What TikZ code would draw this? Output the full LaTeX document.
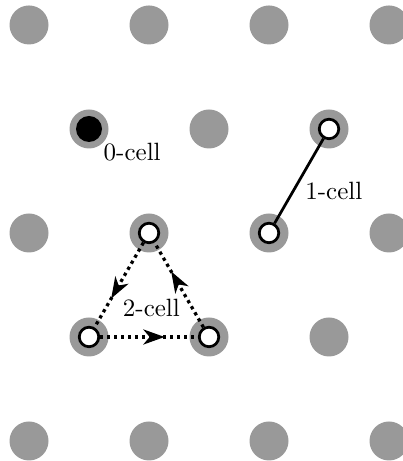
\documentclass[tikz,border=0pt]{standalone}
\usetikzlibrary{arrows.meta,decorations.markings}
\definecolor{sitegray}{rgb}{0.6,0.6,0.6}
\tikzset{
  site/.style={circle, fill=sitegray, inner sep=0pt, minimum size=15.6pt},
  vert/.style={circle, draw, line width=1.1pt, fill=white, inner sep=0pt, minimum size=7.8pt},
  occ/.style={circle, fill=black, inner sep=0pt, minimum size=10.4pt},
  lbl/.style={inner sep=0pt},
  flow/.style={line width=1.3pt, dash pattern=on 1.3pt off 1.5pt, postaction={decorate},
    decoration={markings, mark=at position 0.66 with {\arrow{Stealth[length=8.5pt,width=6pt,inset=2.5pt]}}}}
}
\begin{document}
\begin{tikzpicture}[x=48pt,y=48pt]
                \useasboundingbox (-0.2417,-0.1667) rectangle (3.1083,3.675);
                % lattice sites
                \foreach \j in {0,...,4}{
                    \foreach \i in {0,...,3}{
                        \ifodd\j
                            \ifnum\i<3 \node[site] (s-\i-\j) at ({\i+0.5},{0.8667*\j}) {}; \fi
                        \else
                            \node[site] (s-\i-\j) at (\i,{0.8667*\j}) {};
                        \fi
                    }
                }
                % 0-cell
                \node[occ] (z0) at (s-0-3) {};
                \node[lbl] (l0) at (0.86,2.41) {0-cell};
                % 1-cell
                \node[vert] (e1) at (s-2-2) {};
                \node[vert] (e2) at (s-2-3) {};
                \draw[line width=1.1pt] (e1) -- (e2);
                \node[lbl] (l1) at (2.54,2.08) {1-cell};
                % 2-cell
                \node[vert] (f1) at (s-1-2) {};
                \node[vert] (f2) at (s-0-1) {};
                \node[vert] (f3) at (s-1-1) {};
                \draw[flow] (f1) -- (f2);
                \draw[flow] (f2) -- (f3);
                \draw[flow] (f3) -- (f1);
                \node[lbl] (l2) at (1.02,1.11) {2-cell};
            \end{tikzpicture}
\end{document}
